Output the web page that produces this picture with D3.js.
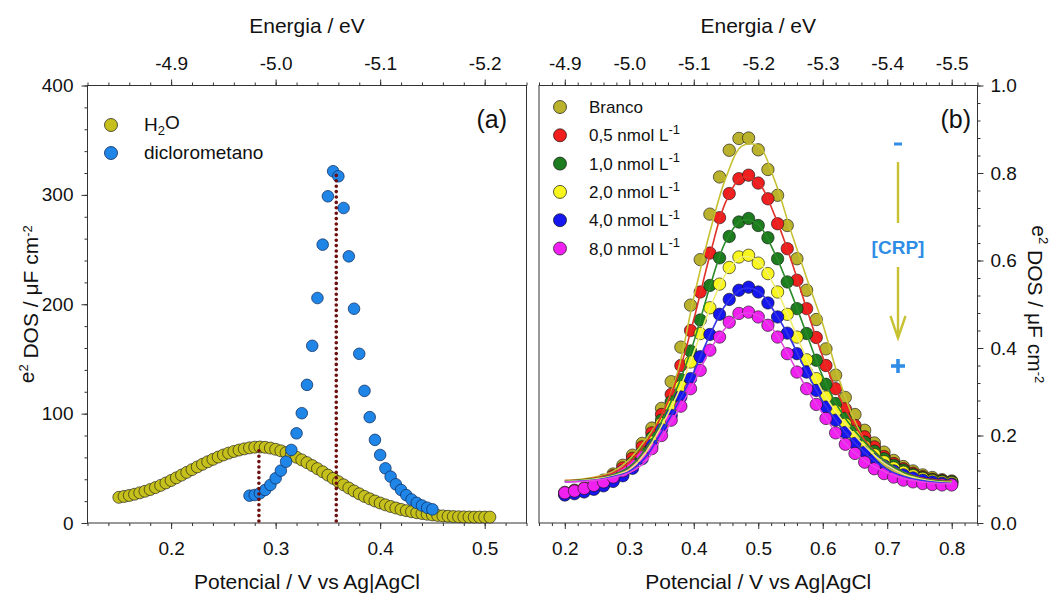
<!DOCTYPE html>
<html>
<head>
<meta charset="utf-8">
<script src="https://cdn.jsdelivr.net/npm/d3@7"></script>
<style>
  body { margin: 0; background: #fff; }
  svg { display: block; font-family: "Liberation Sans", Arial, sans-serif; }
</style>
</head>
<body>
<script>
// ---- panel (a) data ----
const potH2O = [0.150,0.155,0.160,0.165,0.170,0.175,0.180,0.185,0.190,0.195,
  0.200,0.205,0.210,0.215,0.220,0.225,0.230,0.235,0.240,0.245,
  0.250,0.255,0.260,0.265,0.270,0.275,0.280,0.285,0.290,0.295,
  0.300,0.305,0.310,0.315,0.320,0.325,0.330,0.335,0.340,0.345,
  0.350,0.355,0.360,0.365,0.370,0.375,0.380,0.385,0.390,0.395,
  0.400,0.405,0.410,0.415,0.420,0.425,0.430,0.435,0.440,0.445,
  0.450,0.455,0.460,0.465,0.470,0.475,0.480,0.485,0.490,0.495,0.500,0.505];
const dosH2O = [23.5,24.3,25.2,26.3,27.6,29.0,30.6,32.4,34.4,36.6,
  38.9,41.3,43.8,46.3,48.8,51.3,53.7,56.0,58.2,60.3,
  62.2,63.9,65.4,66.7,67.8,68.7,69.3,69.5,69.2,68.5,
  67.4,66.0,64.3,62.3,60.1,57.7,55.2,52.5,49.7,46.8,
  43.8,40.8,37.8,34.9,32.0,29.3,26.7,24.3,22.1,20.1,
  18.3,16.6,15.1,13.7,12.4,11.3,10.3,9.4,8.7,8.0,
  7.4,6.9,6.5,6.2,5.9,5.7,5.6,5.5,5.4,5.4,5.4,5.4];

const potDCM = [0.275,0.280,0.285,0.290,0.295,0.300,0.305,0.310,0.315,0.320,
  0.325,0.330,0.335,0.340,0.345,0.350,0.355,0.360,0.365,0.370,
  0.375,0.380,0.385,0.390,0.395,0.400,0.405,0.410,0.415,0.420,
  0.425,0.430,0.435,0.440,0.445,0.450];
const dosDCM = [25.0,25.6,27.2,30.2,34.8,40.9,47.9,56.1,66.8,82.0,
  100.4,126.3,162.0,205.7,254.5,298.7,321.6,317.0,288.0,243.8,
  195.9,154.7,120.8,96.8,76.0,62.2,50.0,42.4,35.4,30.2,
  25.5,21.5,18.4,16.0,14.0,12.5];

// peak markers (dotted lines): potential, height
const peakPot = [0.284, 0.358];
const peakTop = [70, 322];

// ---- panel (b) data ----
const potB = [0.200,0.215,0.230,0.245,0.260,0.275,0.290,0.305,0.320,0.335,
  0.350,0.365,0.380,0.395,0.410,0.425,0.440,0.455,0.470,0.485,
  0.500,0.515,0.530,0.545,0.560,0.575,0.590,0.605,0.620,0.635,
  0.650,0.665,0.680,0.695,0.710,0.725,0.740,0.755,0.770,0.785,0.800];
const dosBranco = [0.070,0.075,0.080,0.088,0.098,0.112,0.132,0.155,0.182,0.217,
  0.262,0.323,0.402,0.498,0.602,0.706,0.791,0.852,0.879,0.880,
  0.853,0.808,0.749,0.680,0.604,0.532,0.465,0.398,0.338,0.287,
  0.248,0.212,0.183,0.162,0.143,0.129,0.119,0.110,0.104,0.099,0.096];
const dos05 = [0.068,0.073,0.078,0.085,0.095,0.108,0.126,0.148,0.174,0.206,
  0.248,0.294,0.360,0.440,0.528,0.617,0.698,0.753,0.787,0.795,
  0.777,0.741,0.684,0.627,0.555,0.490,0.424,0.360,0.307,0.261,
  0.223,0.197,0.174,0.152,0.136,0.124,0.114,0.106,0.100,0.097,0.094];
const dos10 = [0.066,0.070,0.075,0.082,0.091,0.103,0.118,0.138,0.162,0.195,
  0.235,0.277,0.328,0.393,0.464,0.543,0.606,0.655,0.688,0.696,
  0.680,0.652,0.604,0.551,0.490,0.433,0.372,0.317,0.273,0.239,
  0.210,0.185,0.164,0.147,0.132,0.121,0.111,0.104,0.099,0.096,0.094];
const dos20 = [0.066,0.069,0.073,0.079,0.087,0.098,0.112,0.130,0.153,0.185,
  0.227,0.267,0.312,0.368,0.433,0.492,0.546,0.584,0.608,0.612,
  0.594,0.570,0.528,0.477,0.425,0.373,0.330,0.288,0.256,0.226,
  0.198,0.175,0.156,0.140,0.126,0.116,0.108,0.102,0.097,0.094,0.092];
const dos40 = [0.064,0.067,0.071,0.077,0.085,0.095,0.108,0.125,0.147,0.178,
  0.214,0.246,0.288,0.330,0.380,0.431,0.477,0.511,0.532,0.539,
  0.528,0.503,0.471,0.434,0.387,0.345,0.303,0.265,0.235,0.207,
  0.182,0.162,0.145,0.131,0.119,0.110,0.103,0.098,0.094,0.091,0.089];
const dos80 = [0.069,0.073,0.079,0.086,0.094,0.105,0.119,0.132,0.151,0.170,
  0.200,0.235,0.267,0.307,0.349,0.395,0.425,0.459,0.479,0.482,
  0.471,0.452,0.425,0.387,0.345,0.307,0.271,0.239,0.206,0.180,
  0.159,0.139,0.124,0.113,0.105,0.098,0.094,0.090,0.088,0.087,0.087];

// fitted curves
const potFit = [0.200,0.225,0.250,0.275,0.300,0.325,0.350,0.375,0.400,0.425,
  0.450,0.475,0.500,0.525,0.550,0.575,0.600,0.625,0.650,0.675,
  0.700,0.725,0.750,0.775,0.800];
const fitBranco = [0.097,0.100,0.106,0.118,0.145,0.190,0.245,0.345,0.515,0.665,
  0.790,0.862,0.862,0.785,0.670,0.560,0.455,0.330,0.232,0.163,0.127,0.109,0.100,0.097,0.096];
const fit05 = [0.097,0.099,0.104,0.114,0.138,0.182,0.245,0.335,0.465,0.612,
  0.735,0.790,0.778,0.705,0.605,0.490,0.380,0.290,0.222,0.172,0.138,0.116,0.104,0.098,0.096];
const fit10 = [0.096,0.098,0.102,0.110,0.128,0.168,0.232,0.312,0.414,0.540,
  0.645,0.692,0.682,0.618,0.530,0.432,0.335,0.262,0.210,0.170,0.138,0.116,0.103,0.097,0.095];
const fit20 = [0.095,0.097,0.101,0.108,0.122,0.160,0.222,0.295,0.390,0.490,
  0.570,0.608,0.598,0.542,0.462,0.375,0.300,0.245,0.200,0.162,0.132,0.112,0.101,0.095,0.093];
const fit40 = [0.094,0.096,0.099,0.106,0.118,0.150,0.208,0.272,0.345,0.430,
  0.500,0.535,0.530,0.483,0.420,0.345,0.278,0.225,0.183,0.148,0.122,0.107,0.098,0.093,0.091];
const fit80 = [0.094,0.095,0.098,0.104,0.115,0.140,0.195,0.255,0.320,0.395,
  0.447,0.478,0.474,0.438,0.375,0.307,0.250,0.198,0.160,0.133,0.115,0.102,0.095,0.091,0.090];

const seriesNamesB = ["Branco", "0,5 nmol L", "1,0 nmol L", "2,0 nmol L", "4,0 nmol L", "8,0 nmol L"];
const fillsB = ["#bab22c", "#f01e1e", "#1d7c1d", "#f8f61e", "#1616ee", "#f020f0"];
const linesB = ["#c6c032", "#e03028", "#2a8a2a", "#f2ee70", "#3434e6", "#e444e4"];
const pointsB = [dosBranco, dos05, dos10, dos20, dos40, dos80];
const fitsB = [fitBranco, fit05, fit10, fit20, fit40, fit80];

// ticks
const potTicksA = [0.2, 0.3, 0.4, 0.5];
const potLabelsA = ["0.2", "0.3", "0.4", "0.5"];
const energyTicksA = [-4.9, -5.0, -5.1, -5.2];
const energyLabelsA = ["-4.9", "-5.0", "-5.1", "-5.2"];
const dosTicksA = [0, 100, 200, 300, 400];
const dosLabelsA = ["0", "100", "200", "300", "400"];
const potTicksB = [0.2, 0.3, 0.4, 0.5, 0.6, 0.7, 0.8];
const potLabelsB = ["0.2", "0.3", "0.4", "0.5", "0.6", "0.7", "0.8"];
const energyTicksB = [-4.9, -5.0, -5.1, -5.2, -5.3, -5.4, -5.5];
const energyLabelsB = ["-4.9", "-5.0", "-5.1", "-5.2", "-5.3", "-5.4", "-5.5"];
const dosTicksB = [0, 0.2, 0.4, 0.6, 0.8, 1.0];
const dosLabelsB = ["0.0", "0.2", "0.4", "0.6", "0.8", "1.0"];

const width = 1058, height = 594;
const plotTop = 85.5, plotBottom = 523;

const svg = d3.select("body").append("svg")
    .attr("width", width)
    .attr("height", height);

const xA = d3.scaleLinear().domain([0.12, 0.54]).range([87.5, 526.5]);
const eA = d3.scaleLinear().domain([-4.82, -5.24]).range([87.5, 526.5]);
const yA = d3.scaleLinear().domain([0, 400]).range([plotBottom, plotTop]);
const xB = d3.scaleLinear().domain([0.16, 0.84]).range([539, 977.5]);
const eB = d3.scaleLinear().domain([-4.86, -5.54]).range([539, 977.5]);
const yB = d3.scaleLinear().domain([0, 1]).range([plotBottom, plotTop]);

const axisColor = "#333";

function labeler(ticks, labels) {
  return v => labels[ticks.findIndex(t => Math.abs(t - v) < 1e-9)];
}

function addAxis(axisFn, scale, minor, major, labels, transform, pad) {
  const g = svg.append("g").attr("transform", transform);
  g.append("g")
      .call(axisFn(scale).tickValues(minor).tickSize(3).tickSizeOuter(0).tickFormat(""))
      .call(s => s.select(".domain").remove());
  g.append("g")
      .call(axisFn(scale).tickValues(major).tickSize(6).tickSizeOuter(0)
        .tickPadding(pad).tickFormat(labeler(major, labels)))
      .attr("font-size", 19)
      .attr("font-family", "'Liberation Sans', Arial, sans-serif")
      .call(s => s.select(".domain").remove());
  g.selectAll("line").attr("stroke", axisColor);
  g.selectAll("text").attr("fill", "#111");
  return g;
}

// panel (a) axes
addAxis(d3.axisBottom, xA, d3.range(6, 28).map(i => i / 50), potTicksA, potLabelsA, `translate(0,${plotBottom})`, 13);
addAxis(d3.axisTop, eA, d3.range(241, 263).map(i => -i / 50), energyTicksA, energyLabelsA, `translate(0,${plotTop})`, 10);
addAxis(d3.axisLeft, yA, d3.range(0, 401, 20), dosTicksA, dosLabelsA, `translate(${xA.range()[0]},0)`, 8);

// panel (b) axes
addAxis(d3.axisBottom, xB, d3.range(8, 43).map(i => i / 50), potTicksB, potLabelsB, `translate(0,${plotBottom})`, 13);
addAxis(d3.axisTop, eB, d3.range(243, 278).map(i => -i / 50), energyTicksB, energyLabelsB, `translate(0,${plotTop})`, 10);
addAxis(d3.axisRight, yB, d3.range(0, 26).map(i => i / 25), dosTicksB, dosLabelsB, `translate(${xB.range()[1]},0)`, 7);

// frames
svg.append("rect")
    .attr("x", xA.range()[0]).attr("y", plotTop)
    .attr("width", xA.range()[1] - xA.range()[0]).attr("height", plotBottom - plotTop)
    .attr("fill", "none").attr("stroke", axisColor).attr("stroke-width", 1);
svg.append("rect")
    .attr("x", xB.range()[0]).attr("y", plotTop)
    .attr("width", xB.range()[1] - xB.range()[0]).attr("height", plotBottom - plotTop)
    .attr("fill", "none").attr("stroke", axisColor).attr("stroke-width", 1);

// axis titles
const titleSize = 21;
[[d3.mean(xA.range()), "Energia / eV"], [d3.mean(xB.range()), "Energia / eV"]].forEach(([x, t]) => {
  svg.append("text").attr("x", x).attr("y", 33).attr("text-anchor", "middle")
      .attr("font-size", titleSize).attr("fill", "#111").text(t);
});
[d3.mean(xA.range()), d3.mean(xB.range())].forEach(x => {
  svg.append("text").attr("x", x).attr("y", 589).attr("text-anchor", "middle")
      .attr("font-size", titleSize).attr("fill", "#111").text("Potencial / V vs Ag|AgCl");
});

function dosTitle(sel) {
  sel.append("tspan").text("e");
  sel.append("tspan").attr("dy", "-0.5em").attr("font-size", 13).text("2");
  sel.append("tspan").attr("dy", "0.5em").text(" DOS / \u03bcF cm");
  sel.append("tspan").attr("dy", "-0.5em").attr("font-size", 13).text("-2");
}
svg.append("text")
    .attr("transform", `translate(34,${(plotTop + plotBottom) / 2}) rotate(-90)`)
    .attr("text-anchor", "middle").attr("font-size", titleSize).attr("fill", "#111")
    .call(dosTitle);
svg.append("text")
    .attr("transform", `translate(1032,${(plotTop + plotBottom) / 2}) rotate(90)`)
    .attr("text-anchor", "middle").attr("font-size", titleSize).attr("fill", "#111")
    .call(dosTitle);

// panel letters
svg.append("text").attr("x", 507).attr("y", 128).attr("text-anchor", "end")
    .attr("font-size", 25).attr("fill", "#111").text("(a)");
svg.append("text").attr("x", 971).attr("y", 128).attr("text-anchor", "end")
    .attr("font-size", 25).attr("fill", "#111").text("(b)");

// ---- panel (a) marks ----
const markerStroke = "rgba(20,20,20,0.7)";
svg.append("g")
  .selectAll("circle")
  .data(potH2O.map((p, i) => [p, dosH2O[i]]))
  .join("circle")
    .attr("cx", d => xA(d[0]))
    .attr("cy", d => yA(d[1]))
    .attr("r", 6)
    .attr("fill", "#c6c01c")
    .attr("stroke", markerStroke)
    .attr("stroke-width", 0.9);

svg.append("g")
  .selectAll("circle")
  .data(potDCM.map((p, i) => [p, dosDCM[i]]))
  .join("circle")
    .attr("cx", d => xA(d[0]))
    .attr("cy", d => yA(d[1]))
    .attr("r", 5.8)
    .attr("fill", "#1f86e8")
    .attr("stroke", "rgba(10,40,90,0.8)")
    .attr("stroke-width", 0.9);

svg.append("g")
  .selectAll("line")
  .data(peakPot.map((p, i) => [p, peakTop[i]]))
  .join("line")
    .attr("x1", d => xA(d[0])).attr("x2", d => xA(d[0]))
    .attr("y1", yA(0) - 2).attr("y2", d => yA(d[1]))
    .attr("stroke", "#6e0f0f")
    .attr("stroke-width", 3.6)
    .attr("stroke-linecap", "round")
    .attr("stroke-dasharray", "0 5.4");

// legend (a)
const legA = svg.append("g").attr("font-size", 19).attr("fill", "#111");
legA.append("circle").attr("cx", 111).attr("cy", 125).attr("r", 6.5)
    .attr("fill", "#c6c01c").attr("stroke", markerStroke);
legA.append("circle").attr("cx", 111).attr("cy", 153).attr("r", 6.5)
    .attr("fill", "#1f86e8").attr("stroke", "rgba(10,40,90,0.8)");
legA.append("text").attr("x", 144).attr("y", 131)
    .call(t => {
      t.append("tspan").text("H");
      t.append("tspan").attr("dy", "0.3em").attr("font-size", 13).text("2");
      t.append("tspan").attr("dy", "-0.3em").text("O");
    });
legA.append("text").attr("x", 144).attr("y", 159).text("diclorometano");

// ---- panel (b) marks ----
const line = d3.line().curve(d3.curveCatmullRom.alpha(0.5));

pointsB.forEach((vals, k) => {
  svg.append("g")
    .selectAll("circle")
    .data(potB.map((p, i) => [p, vals[i]]))
    .join("circle")
      .attr("cx", d => xB(d[0]))
      .attr("cy", d => yB(d[1]))
      .attr("r", 6.2)
      .attr("fill", fillsB[k])
      .attr("stroke", markerStroke)
      .attr("stroke-width", 0.9);
});

fitsB.forEach((vals, k) => {
  svg.append("path")
      .attr("d", line(potFit.map((p, i) => [xB(p), yB(vals[i])])))
      .attr("fill", "none")
      .attr("stroke", linesB[k])
      .attr("stroke-width", 1.6);
});

// legend (b)
const legB = svg.append("g").attr("font-size", 17).attr("fill", "#111");
seriesNamesB.forEach((name, k) => {
  const cy = 107 + k * 28.3;
  legB.append("circle").attr("cx", 560).attr("cy", cy).attr("r", 6.5)
      .attr("fill", fillsB[k]).attr("stroke", markerStroke);
  const t = legB.append("text").attr("x", 589).attr("y", cy + 6).text(name);
  if (k > 0) {
    t.append("tspan").attr("dy", "-0.55em").attr("font-size", 13).text("-1");
  }
});

// CRP annotation
const crpX = 898;
svg.append("line").attr("x1", crpX - 4).attr("x2", crpX + 4).attr("y1", 144).attr("y2", 144)
    .attr("stroke", "#2f8de6").attr("stroke-width", 3);
svg.append("line").attr("x1", crpX).attr("x2", crpX).attr("y1", 162).attr("y2", 223)
    .attr("stroke", "#c8c232").attr("stroke-width", 2.4);
svg.append("line").attr("x1", crpX).attr("x2", crpX).attr("y1", 267).attr("y2", 337)
    .attr("stroke", "#c8c232").attr("stroke-width", 2.4);
svg.append("path").attr("d", `M${crpX - 7.5},${316} L${crpX},${338} L${crpX + 7.5},${316}`)
    .attr("fill", "none").attr("stroke", "#c8c232").attr("stroke-width", 2.4);
svg.append("text").attr("x", crpX).attr("y", 254).attr("text-anchor", "middle")
    .attr("font-size", 19).attr("font-weight", "bold").attr("fill", "#2f8de6").text("[CRP]");
svg.append("line").attr("x1", crpX - 7).attr("x2", crpX + 7).attr("y1", 366).attr("y2", 366)
    .attr("stroke", "#2f8de6").attr("stroke-width", 3.6);
svg.append("line").attr("x1", crpX).attr("x2", crpX).attr("y1", 359).attr("y2", 373)
    .attr("stroke", "#2f8de6").attr("stroke-width", 3.6);
</script>
</body>
</html>
